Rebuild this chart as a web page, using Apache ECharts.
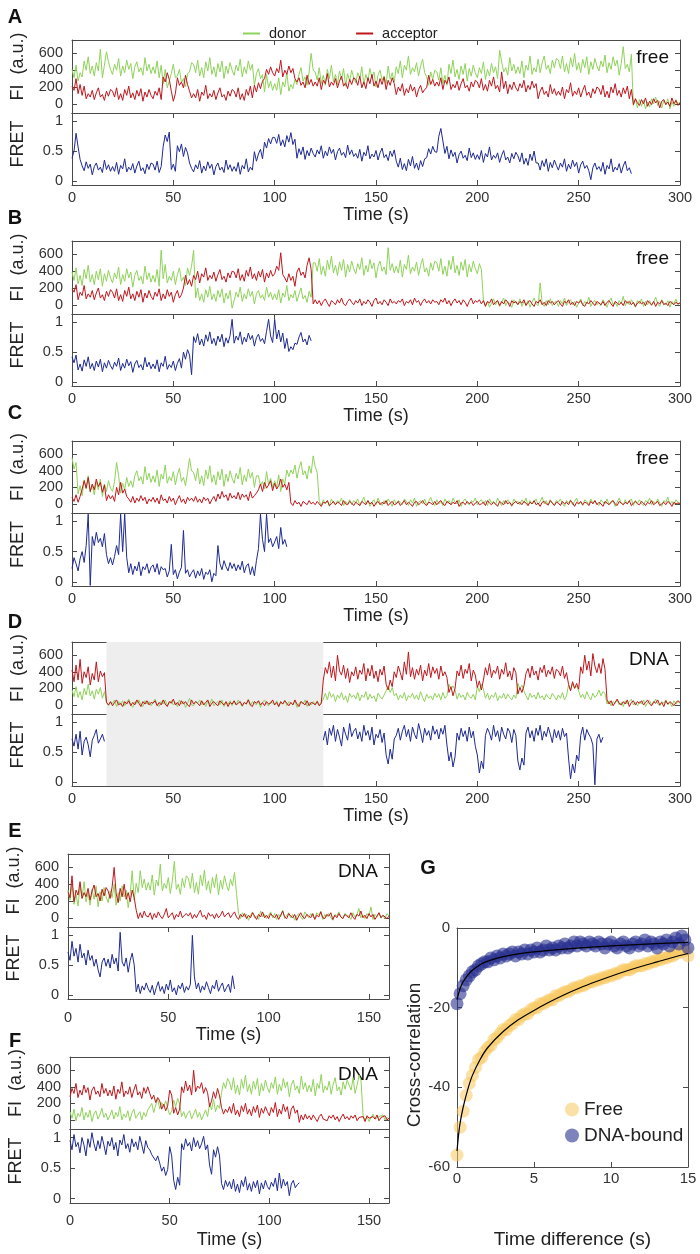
<!DOCTYPE html>
<html><head><meta charset="utf-8">
<script src="https://cdn.jsdelivr.net/npm/echarts@6/dist/echarts.min.js"></script>
<style>html,body{margin:0;padding:0;background:#fff}#c{width:700px;height:1254px}</style>
</head><body><div id="c"></div><script>
// ---------- DATA (traces sampled every 1 s, starting at t0) ----------
const STEP = 1;
const donorA = [410,310,460,270,370,320,510,400,560,360,450,330,490,390,650,310,460,620,500,410,
350,470,400,540,330,450,370,520,410,480,300,440,500,380,430,340,550,390,470,360,
440,360,510,310,460,240,410,190,270,360,470,310,330,410,250,300,200,360,380,490,
470,370,520,330,430,310,500,390,550,350,440,320,480,380,510,300,450,360,490,400,
340,460,390,530,320,440,360,510,400,470,220,360,420,300,350,140,350,190,270,160,
240,160,310,110,260,200,370,150,230,180,290,230,350,430,270,320,220,380,600,400,
380,280,430,240,340,220,410,300,460,260,350,230,390,290,420,210,360,270,400,310,
250,370,300,440,230,350,270,420,310,380,200,340,400,280,330,240,450,290,370,260,
440,360,510,310,460,400,570,350,430,380,490,330,450,530,370,320,220,380,290,400,
380,280,430,240,340,220,470,360,520,320,410,290,450,350,480,270,420,330,460,370,
310,430,360,500,290,410,330,480,370,440,300,640,500,380,430,340,550,390,470,360,
440,360,510,310,460,400,570,350,430,380,530,370,490,570,410,460,360,520,430,540,
520,420,570,380,480,360,550,440,600,400,490,370,530,430,560,350,500,410,540,450,
390,510,440,580,370,490,410,560,450,520,340,480,680,420,470,380,590,-20,60,-50,
50,-30,40,-60,20,-40,60,0,80,-20,30,-50,40,-10,60,-60,20,-30,50,0,
20];
const acceptorA = [210,160,300,120,230,100,210,60,120,80,160,50,130,190,80,110,40,150,90,170,
150,80,190,50,120,40,170,100,210,70,130,50,160,90,180,30,140,80,170,100,
60,150,100,190,50,320,260,370,290,150,30,120,310,220,260,190,340,230,150,70,
120,70,170,30,140,100,220,60,120,80,160,50,130,190,80,110,40,150,90,170,
150,80,190,50,120,40,170,100,210,70,220,140,250,180,270,300,410,350,440,370,
330,420,370,520,320,400,350,450,370,420,300,260,310,220,260,190,340,230,290,210,
260,210,310,170,280,240,360,200,260,220,300,190,270,330,210,250,180,290,230,310,
290,220,330,190,260,180,310,240,350,210,270,190,300,230,320,170,280,220,310,240,
110,200,150,240,100,180,130,230,150,200,80,170,220,130,170,190,340,230,290,210,
260,210,310,170,280,240,320,170,230,190,270,160,240,300,190,220,150,260,200,280,
260,190,300,160,230,150,280,210,320,180,220,140,380,180,270,120,230,170,260,190,
150,240,190,280,140,220,170,270,190,240,60,150,200,110,150,80,230,120,180,100,
150,100,200,60,170,130,250,90,150,110,190,80,160,220,100,140,70,180,120,200,
180,110,220,80,150,70,200,130,240,100,160,80,190,120,210,60,170,-10,60,10,
-20,50,0,70,-30,30,-10,60,10,40,-50,30,50,-10,20,-30,70,0,40,-20,
10];
const fretA = [0.38,0.5,0.8,0.57,0.36,0.25,0.17,0.32,0.21,0.28,0.1,0.24,0.3,0.18,0.23,0.14,0.35,0.19,0.27,0.16,
0.24,0.16,0.31,0.11,0.26,0.2,0.37,0.15,0.23,0.18,0.29,0.13,0.25,0.33,0.17,0.22,0.12,0.28,0.19,0.3,
0.28,0.18,0.33,0.14,0.24,0.58,0.77,0.66,0.82,0.19,0.28,0.16,0.59,0.49,0.62,0.41,0.56,0.47,0.3,0.21,
0.15,0.27,0.2,0.34,0.13,0.25,0.17,0.32,0.21,0.28,0.1,0.24,0.3,0.18,0.23,0.14,0.35,0.19,0.27,0.16,
0.24,0.16,0.31,0.11,0.26,0.2,0.37,0.15,0.23,0.18,0.49,0.33,0.45,0.53,0.37,0.65,0.55,0.71,0.62,0.73,
0.73,0.63,0.78,0.59,0.69,0.57,0.76,0.65,0.81,0.61,0.7,0.38,0.54,0.44,0.57,0.36,0.51,0.42,0.55,0.46,
0.4,0.52,0.45,0.59,0.38,0.5,0.42,0.57,0.46,0.53,0.35,0.49,0.55,0.43,0.48,0.39,0.6,0.44,0.52,0.41,
0.46,0.38,0.53,0.33,0.48,0.42,0.59,0.37,0.45,0.4,0.51,0.35,0.47,0.55,0.39,0.44,0.34,0.5,0.41,0.52,
0.33,0.23,0.38,0.19,0.29,0.17,0.36,0.25,0.41,0.21,0.3,0.18,0.34,0.24,0.37,0.39,0.54,0.45,0.58,0.49,
0.48,0.75,0.88,0.67,0.46,0.58,0.37,0.52,0.41,0.48,0.3,0.44,0.5,0.38,0.43,0.34,0.55,0.39,0.47,0.36,
0.44,0.36,0.51,0.31,0.46,0.4,0.57,0.35,0.43,0.38,0.47,0.31,0.43,0.51,0.35,0.4,0.3,0.46,0.37,0.48,
0.42,0.32,0.47,0.28,0.38,0.26,0.45,0.34,0.5,0.3,0.3,0.18,0.34,0.24,0.37,0.16,0.31,0.22,0.35,0.26,
0.18,0.3,0.23,0.37,0.16,0.28,0.2,0.35,0.24,0.31,0.13,0.27,0.33,0.21,0.26,0.17,0.02,0.22,0.3,0.19,
0.24,0.16,0.31,0.11,0.26,0.2,0.37,0.15,0.23,0.18,0.29,0.13,0.25,0.33,0.17,0.22,0.12];

const donorB = [390,290,440,250,350,230,420,310,470,270,360,240,400,300,430,220,370,280,410,320,
260,380,310,450,240,360,280,430,320,390,210,350,410,290,340,250,460,300,380,270,
350,270,420,220,650,310,480,260,340,290,400,240,360,440,280,330,230,440,350,460,
650,80,200,50,130,30,180,90,220,60,130,40,170,90,190,20,140,70,170,-40,
50,150,90,210,40,130,70,190,100,160,10,130,170,80,120,50,210,90,150,60,
130,60,180,20,140,90,230,50,120,80,170,40,130,200,70,110,30,160,90,500,
500,400,550,360,460,340,530,420,580,380,470,350,510,410,540,330,480,390,520,430,
370,490,420,560,350,470,390,540,430,500,320,460,520,400,450,360,680,410,490,380,
460,380,530,330,480,420,590,370,450,400,510,350,470,550,390,440,340,500,410,520,
500,400,550,360,460,340,530,420,580,380,470,350,510,410,540,330,480,390,520,430,
370,490,420,60,-10,40,-30,20,70,0,50,-20,30,80,-10,40,10,-30,60,20,
10,70,-20,40,0,50,-30,30,80,10,-10,260,20,-20,50,0,70,-10,30,40,
-20,50,10,80,-10,30,60,0,40,-30,20,70,-10,40,10,90,-20,30,50,0,
30,-10,60,20,-30,40,80,0,30,-20,50,10,100,-10,40,0,60,20,-30,50,
10,70,-20,40,0,50,-10,30,90,10,-20,60,20,0,50,-30,40,10,70,0,
30];
const acceptorB = [190,150,240,60,150,110,230,70,130,90,170,60,140,200,80,120,50,160,100,180,
150,80,190,50,120,40,170,100,210,70,130,50,160,90,180,30,140,80,170,100,
60,150,100,190,50,130,70,180,100,150,30,120,170,80,120,200,350,240,300,220,
350,300,400,260,370,330,440,290,350,310,390,280,360,420,300,340,270,380,320,400,
390,320,430,290,360,280,410,340,450,310,370,290,400,330,420,270,380,320,410,340,
370,460,410,620,360,320,270,370,290,340,220,390,440,350,390,320,470,560,420,10,
60,10,50,-10,40,70,20,-20,50,30,0,60,20,80,10,-10,40,70,30,0,
50,20,70,-10,40,10,60,30,-20,50,80,10,40,0,60,30,-10,70,20,40,
10,50,30,70,-10,40,20,60,0,80,30,50,-10,40,70,20,50,10,60,30,
40,0,60,30,80,10,50,-10,40,70,20,50,0,60,30,-20,40,80,10,50,
30,60,10,50,-20,40,20,70,0,30,50,-10,40,10,60,30,-20,50,20,40,
0,40,20,60,-10,30,50,10,-20,40,20,60,0,30,-10,50,20,40,0,30,
50,10,-20,40,20,60,0,30,-10,40,20,50,0,-20,30,10,50,20,-10,40,
20,0,40,-10,30,50,10,-20,40,20,0,30,-10,50,20,40,0,30,-20,20,
40,10,30,-10,50,20,0,40,-20,30,10,50,0,20,-10,40,20,0,30,10,
20];
const fretB = [0.42,0.32,0.45,0.2,0.3,0.18,0.37,0.26,0.42,0.22,0.31,0.19,0.35,0.25,0.38,0.17,0.32,0.23,0.36,0.27,
0.21,0.33,0.26,0.4,0.19,0.31,0.23,0.38,0.27,0.34,0.16,0.3,0.36,0.24,0.29,0.2,0.41,0.25,0.33,0.22,
0.3,0.22,0.37,0.17,0.32,0.26,0.43,0.21,0.29,0.24,0.35,0.19,0.31,0.39,0.23,0.5,0.38,0.54,0.45,0.12,
0.76,0.66,0.81,0.62,0.72,0.6,0.79,0.68,0.84,0.64,0.73,0.61,0.77,0.67,0.8,0.59,0.74,0.65,0.78,1.05,
0.65,0.77,0.7,0.84,0.63,0.75,0.67,0.82,0.71,0.78,0.6,0.74,0.8,0.68,0.73,0.64,0.85,1.05,0.77,0.66,
1.05,0.72,0.87,0.67,0.82,0.56,0.73,0.51,0.59,0.54,0.65,0.63,0.75,0.83,0.67,0.72,0.62,0.78,0.69];

const donorC = [560,420,500,120,220,100,290,180,340,140,230,110,270,170,300,90,240,150,280,190,
150,270,500,340,130,250,170,320,210,280,200,340,400,280,330,240,450,290,370,260,
340,260,410,210,360,300,470,250,330,280,390,230,350,430,270,320,220,380,550,400,
380,280,430,240,340,220,410,300,460,260,350,230,390,290,420,210,360,270,400,310,
250,370,300,440,230,350,270,420,310,380,200,340,340,220,270,180,390,230,310,200,
280,200,350,150,300,240,410,330,410,360,470,310,430,510,350,400,300,460,370,580,
450,380,30,-20,50,0,40,-30,60,10,-10,40,20,70,-20,30,0,50,-10,40,
10,60,-20,30,80,0,40,-30,20,50,-10,70,10,-20,40,0,60,20,-30,50,
0,40,20,-10,60,30,-20,50,10,70,-30,20,40,0,60,-10,30,80,10,-20,
50,0,30,-20,60,10,40,-10,70,20,0,50,-30,30,60,10,-10,40,20,70,
-10,30,50,0,40,-20,60,10,30,-10,70,20,-20,40,0,50,10,-30,60,20,
30,-10,50,10,70,-20,40,0,20,60,-10,30,80,0,40,-20,50,10,-10,40,
20,60,0,-30,40,10,50,-10,30,70,0,20,-20,50,30,-10,60,10,40,0,
-20,50,20,0,60,-10,30,40,-30,20,70,10,-10,50,0,30,60,-20,40,10,
50,0,-20,40,20,70,-10,30,0,60,10,-30,40,20,80,0,30,-10,50,20,
10];
const acceptorC = [80,30,110,20,90,180,280,190,320,150,240,170,300,210,260,140,230,40,110,60,
100,30,200,110,260,130,180,90,60,20,90,10,70,30,100,40,80,0,60,30,
80,20,70,0,110,40,60,10,90,30,70,-10,50,100,20,60,0,80,40,70,
30,90,20,60,10,80,40,70,0,50,90,30,120,60,150,80,110,40,130,70,
100,60,140,50,120,80,110,40,150,70,100,130,170,240,150,260,190,230,280,160,
250,180,220,300,200,240,170,260,10,-20,40,0,20,-30,30,10,-10,40,0,20,
-10,30,0,-30,20,10,40,-20,0,30,-10,20,10,-20,40,0,-10,30,10,-20,
20,0,-20,30,10,-10,40,0,20,-30,10,30,-10,20,0,40,-20,10,30,-10,
0,30,-20,10,40,-10,20,0,-30,20,30,-10,10,40,0,-20,20,10,-10,30,
-10,20,40,0,-20,30,10,-10,20,0,40,-30,10,20,-10,30,0,20,-20,10,
30,-10,0,20,-20,40,10,-10,20,0,-30,30,10,-10,40,0,20,-20,10,30,
0,20,-10,30,10,-20,20,0,40,-10,10,-30,20,30,0,-10,40,10,-20,20,
10,-20,30,0,20,-10,40,10,-30,20,0,30,-10,20,10,-20,30,0,40,-10,
20,0,-30,30,10,-10,20,40,0,-20,30,10,-10,20,0,40,-20,10,30,0,
-10,30,10,-20,20,0,40,-10,10,30,-20,0,20,-10,30,10,-30,20,0,10,
0];
const fretC = [0.22,0.4,0.3,0.18,0.38,0.5,0.32,0.6,1.12,-0.06,0.75,0.6,0.82,0.65,0.72,0.58,0.8,0.45,0.3,0.4,
0.28,0.42,0.6,0.45,1.12,0.5,1.12,0.4,0.15,0.3,0.12,0.26,0.18,0.33,0.1,0.25,0.2,0.3,0.14,0.24,
0.28,0.16,0.3,0.12,0.25,0.2,0.22,0.08,0.18,0.62,0.12,0.2,0.05,0.16,0.24,0.85,0.14,0.2,0.08,0.15,
0.2,0.06,0.18,0.1,0.22,0.04,0.16,0.12,0.2,0.0,0.14,0.1,0.6,0.3,0.2,0.35,0.25,0.18,0.32,0.22,
0.3,0.18,0.28,0.2,0.34,0.15,0.26,0.3,0.12,0.25,0.1,0.35,0.55,1.12,0.7,0.5,1.12,0.65,0.72,0.58,
0.66,0.75,0.55,0.9,0.62,0.7,0.58];

const donorD = [180,100,220,90,160,60,200,120,250,110,170,70,190,130,210,80,160,40,-10,30,
20,60,-20,40,0,50,-10,30,70,10,-30,40,20,60,0,-20,50,10,40,-10,
30,70,0,-20,40,10,60,-10,20,50,0,30,-20,60,10,40,-30,20,80,0,
-10,40,20,60,0,30,-20,50,10,70,-10,20,40,0,60,-20,30,10,50,-10,
40,0,60,20,-20,30,10,70,-10,40,20,0,50,-30,30,60,10,-10,40,20,
0,50,-20,30,10,60,-10,40,20,0,50,-30,20,40,10,60,-20,30,0,40,
10,50,-10,30,70,140,60,160,90,130,40,120,80,150,60,110,30,140,90,120,
70,150,50,120,90,160,60,130,80,110,40,140,100,70,120,170,230,150,210,110,
140,60,120,80,150,50,110,90,140,70,120,60,160,90,40,130,80,110,60,140,
90,130,60,150,80,110,250,190,230,180,70,140,90,120,60,150,100,80,130,60,
230,160,250,190,80,140,60,120,90,150,50,110,80,140,70,130,90,60,120,80,
260,190,240,170,110,60,140,90,120,70,150,80,110,60,130,90,70,140,100,60,
120,80,150,60,110,240,180,260,200,230,170,90,130,70,160,100,60,140,90,120,
180,110,160,140,10,50,-10,40,20,60,0,30,-20,50,10,40,70,0,30,-10,
40,10,60,-20,30,50,0,20,70,10,-10,40,20,60,0,30,-20,50,10,40,
20];
const acceptorD = [420,280,480,300,550,260,400,330,460,240,380,300,520,280,410,340,390,30,0,40,
-10,30,60,0,20,-20,40,10,50,-10,30,0,60,20,-20,40,10,50,0,30,
20,50,-10,30,0,60,10,-20,40,20,70,0,30,-10,50,10,40,0,-20,60,
10,40,20,-10,50,0,30,60,-20,20,40,10,-10,50,20,0,40,-20,30,10,
50,0,20,40,-10,30,10,60,0,-20,40,20,50,0,30,-10,40,10,20,60,
0,30,-20,40,10,50,20,-10,30,0,60,10,-20,40,20,0,50,-10,30,20,
0,40,-10,20,300,450,380,520,330,470,290,600,410,360,480,320,440,270,400,350,
460,310,420,370,500,290,440,350,480,320,410,280,430,360,470,250,180,300,220,400,
330,470,390,300,520,370,640,340,450,310,430,360,480,290,420,350,500,330,460,380,
440,310,470,350,400,330,150,220,110,200,410,350,480,320,430,380,500,290,420,360,
210,290,180,300,450,360,500,330,420,380,470,310,430,370,510,340,410,300,450,390,
130,210,150,230,380,440,330,470,360,410,300,450,390,480,340,420,370,460,320,430,
410,350,470,320,390,250,170,280,200,260,190,460,380,600,420,530,350,620,470,390,
500,380,560,430,60,10,50,-10,30,70,20,0,40,10,60,-20,30,50,0,40,
20,50,0,30,60,10,-10,40,20,60,0,30,-20,50,10,40,20,-10,30,50,
30];
const fretD1 = [0.72,0.6,0.8,0.55,0.85,0.45,0.68,0.75,0.62,0.42,0.7,0.78,0.88,0.65,0.72,0.8,0.68]; // t = 0..16
const fretD2Start = 124;                                                                            // t = 124..262
const fretD2 = [0.7,0.85,0.62,0.9,0.78,0.95,0.68,0.88,0.75,0.6,0.92,0.8,0.7,0.98,0.76,0.85,
0.9,0.72,0.84,0.68,0.95,0.78,0.86,0.7,0.92,0.62,0.8,0.74,0.88,0.66,0.82,0.45,0.3,0.55,0.38,0.72,
0.78,0.9,0.7,0.85,0.95,0.76,0.88,0.68,0.92,0.8,0.72,0.98,0.84,0.66,0.9,0.78,0.86,0.7,0.94,0.8,
0.88,0.72,0.9,0.8,0.95,0.62,0.35,0.5,0.25,0.42,0.82,0.7,0.9,0.76,0.86,0.68,0.92,0.74,0.85,0.6,
0.45,0.15,0.35,0.22,0.78,0.9,0.82,0.7,0.95,0.76,0.86,0.68,0.92,0.8,0.72,0.9,0.84,0.66,0.88,0.78,
0.35,0.2,0.4,0.28,0.82,0.92,0.74,0.86,0.68,0.9,0.78,0.95,0.7,0.85,0.76,0.92,0.8,0.66,0.88,0.74,
0.86,0.7,0.9,0.76,0.82,0.4,0.05,0.3,0.15,0.45,0.35,0.78,0.92,0.7,0.88,0.8,0.74,0.62,-0.05,0.72,
0.8,0.66,0.75];
const darkStart = 17, darkEnd = 124;

const donorE = [330,210,390,160,280,140,370,240,430,190,300,150,340,220,380,130,310,200,360,250,
180,320,240,400,150,300,200,380,250,330,120,280,560,210,410,300,560,360,460,330,
420,330,510,270,450,380,640,320,410,350,480,290,440,670,340,400,280,470,360,500,
470,350,530,300,420,280,510,380,570,330,440,290,480,360,520,270,450,340,500,390,
320,460,380,540,290,50,-10,60,10,40,-30,30,70,0,20,-20,80,10,40,-10,
30,70,0,50,-20,40,10,90,-10,30,60,0,40,-30,20,50,10,-20,70,30,
0,50,20,-10,60,30,80,-20,40,10,50,0,-30,40,20,70,10,-10,50,30,
20,-20,60,10,40,110,0,30,-10,50,20,130,-20,40,10,60,0,30,-10,50,
20];
const acceptorE = [310,240,500,190,330,270,430,230,300,250,350,210,320,390,250,290,200,340,260,360,
320,230,370,600,290,180,350,250,400,220,300,190,330,240,90,-10,60,0,80,20,
10,60,-20,50,0,70,20,-10,40,110,0,30,60,-20,40,10,80,0,30,50,
20,60,-10,40,0,50,90,10,30,-20,60,20,40,-10,50,0,30,80,10,40,
60,0,40,70,10,-20,40,10,50,-10,30,0,60,20,-20,40,10,70,0,30,
-10,50,20,0,40,-20,30,80,10,-10,50,20,0,40,-30,20,60,10,-10,40,
20,0,50,-20,30,10,70,0,-10,40,20,60,-20,30,0,50,10,-10,40,20,
0,60,10,-20,40,20,80,0,30,-10,50,10,40,-20,20,60,0,30,10,-10,
20];
const fretE = [0.72,0.58,0.9,0.65,0.78,0.55,0.85,0.62,0.7,0.5,0.75,0.58,0.66,0.48,0.6,0.42,0.3,0.55,0.62,0.48,
0.6,0.45,0.68,0.52,0.62,0.4,1.05,0.55,0.48,0.62,0.38,0.58,0.7,0.5,0.05,0.18,0.02,0.15,0.08,0.2,
0.1,0.04,0.16,0.0,0.12,0.22,0.06,0.14,0.02,0.18,0.08,0.25,0.05,0.12,0.0,0.16,0.1,0.2,0.04,0.14,
0.08,0.18,1.0,0.3,0.1,0.2,0.04,0.15,0.08,0.22,0.12,0.02,0.16,0.1,0.25,0.06,0.14,0.2,0.05,0.12,
0.18,0.04,0.32,0.1];

const donorF = [100,20,130,-10,80,40,150,0,90,30,120,-20,70,110,10,60,140,30,80,0,
50,120,10,90,40,160,0,70,30,110,-10,80,130,20,60,100,0,90,40,120,
120,200,90,180,250,130,210,160,230,140,60,110,240,160,260,190,40,100,20,80,
110,10,70,130,30,90,0,60,120,40,200,120,250,100,180,140,330,450,380,500,
460,360,510,320,420,300,490,380,540,340,430,310,470,370,500,290,440,350,480,390,
330,450,380,520,310,430,350,500,390,460,280,420,480,360,410,320,530,370,450,340,
420,340,490,290,440,380,550,330,410,360,470,310,430,510,350,400,300,460,370,480,
460,360,510,320,420,540,470,50,0,40,-20,30,70,10,-10,40,20,60,0,30,
10];
const acceptorF = [280,380,320,440,270,360,300,420,330,390,240,360,400,310,350,280,440,320,380,290,
360,290,410,250,370,320,460,280,350,310,400,270,360,430,300,340,260,390,320,400,
320,250,300,210,270,230,130,190,110,170,360,300,80,150,60,130,400,330,470,350,
420,300,600,340,410,380,450,320,390,330,160,230,340,260,380,290,150,70,130,90,
160,80,200,60,120,40,170,100,200,70,130,50,160,90,180,30,140,80,160,100,
50,150,90,210,40,130,70,190,100,160,10,130,170,80,120,-30,60,0,70,10,
50,0,60,20,-20,40,70,10,30,-10,50,20,60,0,40,-20,30,70,10,40,
0,50,20,60,-10,30,10,40,-20,50,20,0,40,10,60,-10,30,20,50,0,
20];
const fretF = [0.95,0.8,1.05,0.85,0.92,0.75,1.0,0.88,0.7,0.98,0.84,1.08,0.9,0.78,0.95,0.82,1.02,0.88,0.72,0.94,
0.86,1.0,0.8,0.92,0.7,0.96,0.88,1.05,0.82,0.9,0.76,0.98,0.85,0.93,0.8,1.02,0.88,0.74,0.95,0.84,
0.8,0.72,0.75,0.62,0.7,0.58,0.45,0.52,0.38,0.48,0.85,0.7,0.3,0.15,0.35,0.22,0.9,0.8,0.98,0.86,
0.92,0.78,1.0,0.85,0.95,0.82,0.9,1.02,0.8,0.88,0.55,0.4,0.8,0.68,0.85,0.7,0.25,0.15,0.3,0.2,
0.28,0.16,0.32,0.12,0.24,0.1,0.3,0.2,0.36,0.14,0.25,0.12,0.28,0.18,0.3,0.08,0.26,0.16,0.3,0.2,
0.15,0.27,0.2,0.34,0.13,0.42,0.17,0.32,0.21,0.28,0.05,0.24,0.3,0.18,0.23,0.26];

// Panel G: cross-correlation, lag step 0.2 s
const G_STEP = 0.2;
const freeCC = [-57,-50,-46,-42,-39,-37,-35,-33,-32.5,-31,
-30,-29.5,-28,-27.5,-26.5,-25.5,-25.5,-24.5,-24,-23,
-23,-22,-21.5,-21.5,-20.5,-20,-20,-19,-19,-18.5,
-18,-18,-17,-17,-16.5,-16,-16,-15.5,-15,-15,
-14.5,-14.5,-14,-13.5,-13.5,-13,-13,-12.5,-12.5,-12,
-12,-11.5,-11.5,-11,-10.5,-10.5,-10.5,-10,-9.5,-9.5,
-9.5,-9,-9,-8.5,-8.5,-8,-8,-7.5,-7.5,-7,
-7,-6.5,-6,-6,-5.5,-7];
const dnaCC = [-19,-16.5,-14.5,-13,-12,-11,-10.5,-9.5,-9,-8.5,
-8.5,-7.5,-8,-7,-7.5,-6.5,-7,-6.5,-6,-7,
-6,-6.5,-5.5,-6.5,-5.5,-6,-5,-6,-5.5,-4.5,
-5.5,-5,-5.5,-4.5,-5,-4,-5,-4.5,-3.5,-4.5,
-3.5,-4,-4.5,-3.5,-4,-4.5,-3.5,-4,-5,-4,
-3.5,-4.5,-5,-4,-3.5,-4.5,-5,-4,-3.5,-4.5,
-4,-3,-4.5,-3.5,-4,-5,-3.5,-4,-3,-4.5,
-3.5,-2.5,-4,-2,-3,-5];
const freeFitX = [0,0.1,0.2,0.4,0.7,1,1.5,2,3,4,5,6,7,8,9,10,11,12,13,14,15];
const freeFitY = [-56,-52,-49,-45,-40.5,-37,-33,-30,-26,-23,-20.7,-18.6,-16.7,-15,-13.5,-12.1,-10.8,-9.6,-8.5,-7.4,-6.4];
const dnaFitX = [0,0.1,0.2,0.4,0.7,1,1.5,2,3,4,5,6,8,10,12,15];
const dnaFitY = [-18,-16.5,-15.2,-13.5,-11.8,-10.6,-9.2,-8.3,-7.2,-6.5,-6,-5.6,-5,-4.5,-4.1,-3.6];

const fiTicks = [0,200,400,600];
const fretTicks = [0,0.5,1];
const longTimeTicks = [0,50,100,150,200,250,300];
const shortTimeTicks = [0,50,100,150];

// ---------- LAYOUT ----------
const FONT = '"Liberation Sans", Arial, Helvetica, sans-serif';
const GREEN = '#8fd35a', RED = '#c0161c', NAVY = '#1e2a92';
const AXC = '#4a4a4a';
const panels = [
 {letter:'A', ly:17,   tag:'free', left:72, right:680, top:40,   mid:113,  bottom:185,  xmax:300, xt:longTimeTicks,  lm:5,  ng:18,
  donor:donorA, acceptor:acceptorA, fret:[[fretA,0]]},
 {letter:'B', ly:218,  tag:'free', left:72, right:680, top:241,  mid:314,  bottom:386,  xmax:300, xt:longTimeTicks,  lm:5,  ng:17,
  donor:donorB, acceptor:acceptorB, fret:[[fretB,0]]},
 {letter:'C', ly:413,  tag:'free', left:72, right:680, top:441,  mid:513,  bottom:586,  xmax:300, xt:longTimeTicks,  lm:5,  ng:17,
  donor:donorC, acceptor:acceptorC, fret:[[fretC,0]]},
 {letter:'D', ly:622,  tag:'DNA',  left:72, right:680, top:642,  mid:714,  bottom:786,  xmax:300, xt:longTimeTicks,  lm:5,  ng:17,
  donor:donorD, acceptor:acceptorD, fret:[[fretD1,0],[fretD2,fretD2Start]], dark:true},
 {letter:'E', ly:831,  tag:'DNA',  left:68, right:389, top:854,  mid:927,  bottom:999,  xmax:160, xt:shortTimeTicks, lm:11, ng:27,
  donor:donorE, acceptor:acceptorE, fret:[[fretE,0]]},
 {letter:'F', ly:1041, tag:'DNA',  left:70, right:389, top:1057, mid:1129, bottom:1203, xmax:160, xt:shortTimeTicks, lm:10, ng:28,
  donor:donorF, acceptor:acceptorF, fret:[[fretF,0]]},
];

function ts(arr, t0){ return arr.map((v,i)=>[t0 + i*STEP, v]); }
function pairs(xs, ys){ return xs.map((x,i)=>[x, ys[i]]); }

const grids=[], xAxes=[], yAxes=[], series=[], graphics=[];
const lab = {fontSize:14.5, color:'#333', fontFamily:FONT};
const line = {show:true, onZero:false, lineStyle:{color:AXC, width:1}};
function tick(show, vals){ return {show, inside:true, length:5, customValues:vals, lineStyle:{color:AXC}}; }

function addGrid(g){
  grids.push(g); const gi = grids.length-1;
  xAxes.push({type:'value', gridIndex:gi, position:'bottom', min:g.xmin, max:g.xmax, interval:g.xint,
    axisLine:line, axisTick:tick(!!g.bTicks, g.xvals),
    axisLabel:{show:!!g.xLabels, margin:g.lm, customValues:g.xvals, ...lab},
    splitLine:{show:false}, name:g.xname||'', nameLocation:'middle', nameGap:g.ng,
    nameTextStyle:{fontSize:18, color:'#222', fontFamily:FONT}});
  xAxes.push({type:'value', gridIndex:gi, position:'top', min:g.xmin, max:g.xmax, interval:g.xint,
    axisLine:line, axisTick:tick(!!g.tTicks, g.xvals), axisLabel:{show:false}, splitLine:{show:false}});
  yAxes.push({type:'value', gridIndex:gi, position:'left', min:g.ymin, max:g.ymax, interval:g.yint,
    axisLine:line, axisTick:tick(true, g.yvals),
    axisLabel:{show:true, margin:g.ylm, customValues:g.yvals, ...lab}, splitLine:{show:false},
    name:g.yname, nameLocation:'middle', nameGap:g.yng,
    nameTextStyle:{fontSize:g.ynameSize||18, color:'#222', fontFamily:FONT, padding:g.ynamePad||0}});
  yAxes.push({type:'value', gridIndex:gi, position:'right', min:g.ymin, max:g.ymax, interval:g.yint,
    axisLine:line, axisTick:tick(true, g.yvals), axisLabel:{show:false}, splitLine:{show:false}});
  return gi;
}

const FI_MIN=-110, FI_MAX=760, FRET_MIN=-0.07, FRET_MAX=1.14;

panels.forEach(p=>{
  const width = p.right - p.left;
  const xvals = p.xt;
  const giFI = addGrid({left:p.left, top:p.top, width, height:p.mid-p.top,
    xmin:0, xmax:p.xmax, xvals, tTicks:true, bTicks:false,
    ymin:FI_MIN, ymax:FI_MAX, yvals:fiTicks, ylm:9, yname:'FI  (a.u.)', yng:45, ynamePad:[0,0,0,20]});
  const giFR = addGrid({left:p.left, top:p.mid, width, height:p.bottom-p.mid,
    xmin:0, xmax:p.xmax, xvals, tTicks:true, bTicks:true, xLabels:true, lm:p.lm, xname:'Time (s)', ng:p.ng,
    ymin:FRET_MIN, ymax:FRET_MAX, yvals:fretTicks, ylm:9, yname:'FRET', yng:45, ynamePad:[0,0,0,10]});
  const darkArea = p.dark ? {silent:true, itemStyle:{color:'#eeeeee'}, data:[[{xAxis:darkStart},{xAxis:darkEnd}]]} : undefined;
  series.push({type:'line', name:'donor', xAxisIndex:2*giFI, yAxisIndex:2*giFI, data:ts(p.donor,0),
    showSymbol:false, color:GREEN, lineStyle:{width:1, color:GREEN}, animation:false, markArea:darkArea, z:2});
  series.push({type:'line', name:'acceptor', xAxisIndex:2*giFI, yAxisIndex:2*giFI, data:ts(p.acceptor,0),
    showSymbol:false, color:RED, lineStyle:{width:1, color:RED}, animation:false, z:3});
  p.fret.forEach(([arr,t0],k)=>{
    series.push({type:'line', name:'FRET', xAxisIndex:2*giFR, yAxisIndex:2*giFR, data:ts(arr,t0),
      showSymbol:false, color:NAVY, lineStyle:{width:1, color:NAVY}, animation:false, z:3,
      markArea:(k===0?darkArea:undefined)});
  });
  graphics.push({type:'text', x:15, y:p.ly, style:{text:p.letter, font:'bold 20px '+FONT, fill:'#111', align:'center', verticalAlign:'middle'}});
  graphics.push({type:'text', x:p.right-11, y:p.top+18, style:{text:p.tag, font:'19px '+FONT, fill:'#111', align:'right', verticalAlign:'middle'}});
  if(p.dark){
    graphics.push({type:'text', x:226, y:751, style:{text:'dark state\nor\nunbound', font:'19px '+FONT, fill:'#222', align:'center', verticalAlign:'middle', lineHeight:23.5}});
  }
});

// Panel G
const giG = addGrid({left:457, top:928, width:231, height:239,
  xmin:0, xmax:15, xint:5, tTicks:true, bTicks:true, xLabels:true, lm:4, xname:'Time difference (s)', ng:63,
  ymin:-60, ymax:0, yint:20, ylm:7, yname:'Cross-correlation', yng:33, ynamePad:[0,15,0,0], ynameSize:19});
xAxes[2*giG].nameTextStyle.fontSize = 19;
xAxes[2*giG].axisLabel.fontSize = 15;
yAxes[2*giG].axisLabel.fontSize = 15;
const lagX = freeCC.map((_,i)=>+(i*G_STEP).toFixed(1));
series.push({type:'scatter', name:'Free', xAxisIndex:2*giG, yAxisIndex:2*giG, data:pairs(lagX, freeCC),
  symbolSize:13, itemStyle:{color:'#f7c85f', opacity:0.55}, animation:false, z:2});
series.push({type:'scatter', name:'DNA-bound', xAxisIndex:2*giG, yAxisIndex:2*giG, data:pairs(lagX, dnaCC),
  symbolSize:13, itemStyle:{color:'#283090', opacity:0.6}, animation:false, z:2});
series.push({type:'line', name:'Free fit', xAxisIndex:2*giG, yAxisIndex:2*giG, data:pairs(freeFitX, freeFitY),
  showSymbol:false, smooth:0.3, lineStyle:{color:'#000', width:1.2}, color:'#000', animation:false, z:5});
series.push({type:'line', name:'DNA-bound fit', xAxisIndex:2*giG, yAxisIndex:2*giG, data:pairs(dnaFitX, dnaFitY),
  showSymbol:false, smooth:0.3, lineStyle:{color:'#000', width:1.2}, color:'#000', animation:false, z:5});
graphics.push({type:'text', x:428, y:868, style:{text:'G', font:'bold 20px '+FONT, fill:'#111', align:'center', verticalAlign:'middle'}});

const chart = echarts.init(document.getElementById('c'), null, {renderer:'canvas', width:700, height:1254});
chart.setOption({
  backgroundColor:'#fff',
  animation:false,
  textStyle:{fontFamily:FONT},
  legend:[
    {data:['donor','acceptor'], left:238, top:21, icon:'rect', itemWidth:17, itemHeight:2, itemGap:50,
     textStyle:{fontSize:14.5, color:'#222', fontFamily:FONT, padding:[0,0,0,4]}, selectedMode:false},
    {data:['Free','DNA-bound'], left:560, top:1095, orient:'vertical', icon:'circle', itemWidth:14, itemHeight:14, itemGap:7,
     textStyle:{fontSize:19, color:'#222', fontFamily:FONT}, selectedMode:false}
  ],
  grid:grids.map(g=>({left:g.left, top:g.top, width:g.width, height:g.height, containLabel:false})),
  xAxis:xAxes, yAxis:yAxes, series, graphic:graphics
});
</script></body></html>
